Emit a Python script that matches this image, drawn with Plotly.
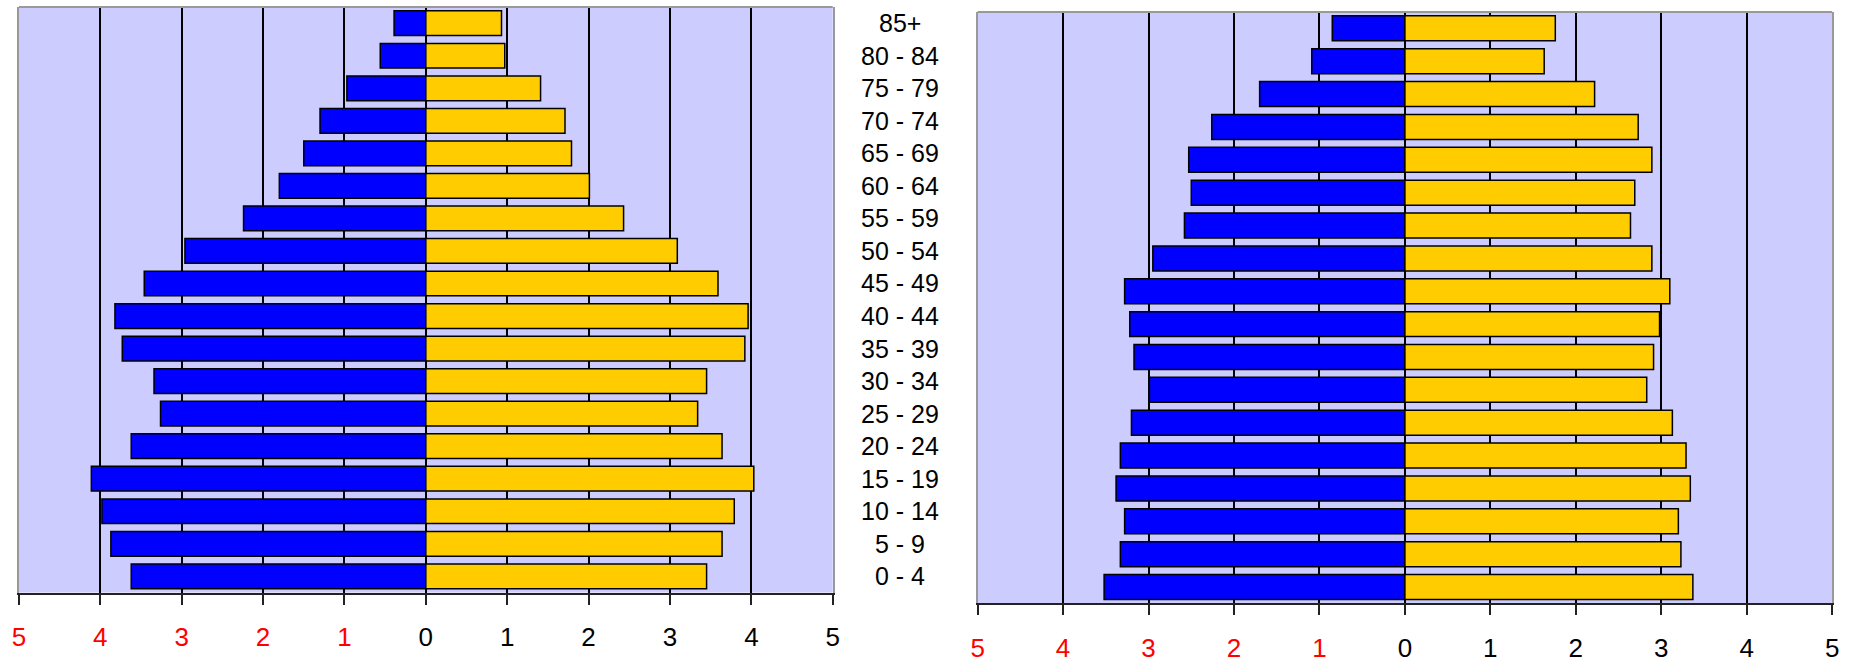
import plotly.graph_objects as go

# Age groups, bottom to top
age_groups = ["0 - 4", "5 - 9", "10 - 14", "15 - 19", "20 - 24", "25 - 29", "30 - 34",
              "35 - 39", "40 - 44", "45 - 49", "50 - 54", "55 - 59", "60 - 64",
              "65 - 69", "70 - 74", "75 - 79", "80 - 84", "85+"]

# Left pyramid (percent of population)
left_male = [3.62, 3.87, 3.98, 4.11, 3.62, 3.26, 3.34, 3.73, 3.82, 3.46, 2.96, 2.24,
             1.80, 1.50, 1.30, 0.97, 0.56, 0.39]
left_female = [3.45, 3.64, 3.79, 4.03, 3.64, 3.34, 3.45, 3.92, 3.96, 3.59, 3.09, 2.43,
               2.01, 1.79, 1.71, 1.41, 0.97, 0.93]

# Right pyramid (percent of population)
right_male = [3.52, 3.33, 3.28, 3.38, 3.33, 3.20, 2.99, 3.17, 3.22, 3.28, 2.95, 2.58,
              2.50, 2.53, 2.26, 1.70, 1.09, 0.85]
right_female = [3.37, 3.23, 3.20, 3.34, 3.29, 3.13, 2.83, 2.91, 2.98, 3.10, 2.89, 2.64,
                2.69, 2.89, 2.73, 2.22, 1.63, 1.76]

tick_vals = [-5, -4, -3, -2, -1, 0, 1, 2, 3, 4, 5]
tick_text = ["<span style='color:#FF0000'>5</span>", "<span style='color:#FF0000'>4</span>",
             "<span style='color:#FF0000'>3</span>", "<span style='color:#FF0000'>2</span>",
             "<span style='color:#FF0000'>1</span>", "0", "1", "2", "3", "4", "5"]

BLUE = "#0000FF"
YELLOW = "#FFCC00"
BG = "#CCCCFF"
W, H = 1860, 663

fig = go.Figure()

def add_pyramid(male, female, xa, ya):
    fig.add_trace(go.Bar(y=age_groups, x=[-v for v in male], orientation="h",
                         marker=dict(color=BLUE, line=dict(color="#000000", width=1.5)),
                         xaxis=xa, yaxis=ya, showlegend=False))
    fig.add_trace(go.Bar(y=age_groups, x=female, orientation="h",
                         marker=dict(color=YELLOW, line=dict(color="#000000", width=1.5)),
                         xaxis=xa, yaxis=ya, showlegend=False))

add_pyramid(left_male, left_female, "x", "y")
add_pyramid(right_male, right_female, "x2", "y2")

xcommon = dict(range=[-5, 5], tickmode="array", tickvals=tick_vals, ticktext=tick_text,
               showgrid=True, gridcolor="#000000", gridwidth=2, zeroline=False,
               showline=True, linecolor="#222222", linewidth=2,
               ticks="outside", ticklen=10, tickwidth=2, tickcolor="#222222",
               tickfont=dict(family="Liberation Sans, Arial, sans-serif", size=26, color="#000000"),
               ticklabelstandoff=10, fixedrange=True)
ycommon = dict(type="category", categoryorder="array", categoryarray=age_groups,
               showticklabels=False, ticks="", showgrid=False, zeroline=False,
               showline=True, linecolor="#999999", linewidth=2, mirror=True,
               range=[-0.5, len(age_groups) - 0.5], fixedrange=True)

fig.update_layout(
    width=W, height=H,
    margin=dict(l=0, r=0, t=0, b=0),
    paper_bgcolor="#FFFFFF",
    plot_bgcolor=BG,
    barmode="relative",
    bargap=0.24,
    xaxis=dict(domain=[12 / W, 832 / W], anchor="y", **xcommon),
    yaxis=dict(domain=[1 - 598 / H, 1 - 7 / H], anchor="x", **ycommon),
    xaxis2=dict(domain=[978 / W, 1839 / W], anchor="y2", **xcommon),
    yaxis2=dict(domain=[1 - 609 / H, 1 - 12 / H], anchor="x2", **ycommon),
)

# gray top border of each plot area
for xr, yr in (("x domain", "y domain"), ("x2 domain", "y2 domain")):
    fig.add_shape(type="line", xref=xr, yref=yr, x0=0, x1=1, y0=1, y1=1,
                  line=dict(color="#999999", width=2), layer="above")

# age-group labels between the two pyramids
for g in age_groups:
    fig.add_annotation(x=900 / W, xref="paper", y=g, yref="y", text=g, showarrow=False,
                       xanchor="center", yanchor="middle",
                       font=dict(family="Liberation Sans, Arial, sans-serif", size=25, color="#000000"))

fig.write_html("out.html", config={"displayModeBar": False},
               post_script="document.body.style.margin='0';document.body.style.overflow='hidden';")
